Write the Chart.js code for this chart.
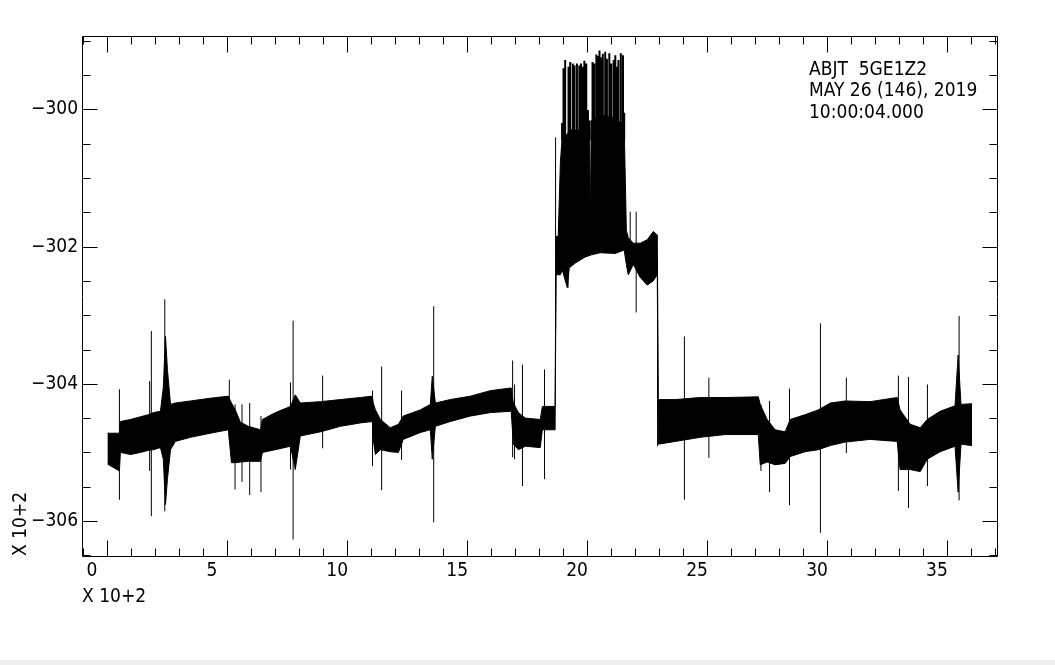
<!DOCTYPE html>
<html>
<head>
<meta charset="utf-8">
<script src="https://cdn.jsdelivr.net/npm/chart.js@4.4.1/dist/chart.umd.min.js"></script>
<style>
  html, body { margin: 0; padding: 0; background: #efefef; }
  #wrap { width: 1055px; height: 660px; background: #ffffff; }
  canvas { display: block; }
</style>
</head>
<body>
<div id="wrap"><canvas id="c" width="1055" height="660"></canvas></div>
<script>
// ---- Data (x in units of 10^2, y in units of 10^2) ----
const envX = [0.00, 0.50, 0.54, 0.96, 1.38, 1.71, 1.92, 2.21, 2.33, 2.42, 2.50, 2.63, 2.83, 3.46, 4.29, 5.04, 5.17, 5.33, 5.54, 5.88, 6.38, 6.46, 7.00, 7.63, 7.83, 8.04, 8.88, 9.71, 10.54, 11.04, 11.08, 11.17, 11.38, 11.79, 12.13, 12.33, 13.04, 13.46, 13.54, 13.67, 14.29, 15.13, 15.96, 16.83, 16.92, 17.13, 17.42, 18.04, 18.13, 18.66, 18.70, 18.79, 18.88, 18.96, 19.17, 19.25, 19.50, 19.92, 20.10, 20.13, 20.17, 20.54, 21.17, 21.54, 21.63, 21.71, 21.92, 22.21, 22.50, 22.75, 22.92, 22.96, 23.67, 24.71, 25.75, 27.13, 27.21, 27.50, 27.83, 28.25, 28.46, 29.08, 29.63, 30.13, 30.75, 31.79, 32.92, 33.04, 33.46, 33.88, 34.17, 34.71, 35.33, 35.46, 35.58, 36.04];
const envUpper = [-304.72, -304.72, -304.55, -304.52, -304.48, -304.45, -304.42, -304.40, -304.05, -303.31, -303.79, -304.30, -304.28, -304.25, -304.21, -304.18, -304.28, -304.38, -304.56, -304.62, -304.67, -304.52, -304.42, -304.33, -304.16, -304.28, -304.26, -304.23, -304.20, -304.18, -304.28, -304.38, -304.52, -304.64, -304.59, -304.47, -304.38, -304.30, -303.89, -304.28, -304.23, -304.18, -304.10, -304.06, -304.28, -304.42, -304.50, -304.52, -304.33, -304.33, -301.85, -301.85, -300.78, -300.37, -300.37, -300.30, -300.30, -300.30, -300.30, -301.76, -300.16, -300.08, -300.13, -300.23, -301.76, -301.87, -301.95, -301.95, -301.90, -301.78, -301.83, -304.23, -304.23, -304.20, -304.20, -304.19, -304.30, -304.52, -304.67, -304.70, -304.52, -304.45, -304.38, -304.28, -304.25, -304.26, -304.20, -304.38, -304.59, -304.64, -304.52, -304.40, -304.32, -303.58, -304.30, -304.29];
const envLower = [-305.17, -305.27, -305.00, -305.03, -305.00, -304.97, -304.96, -304.93, -305.10, -305.76, -305.39, -304.96, -304.84, -304.78, -304.72, -304.67, -305.15, -305.15, -305.14, -305.13, -305.13, -305.00, -304.96, -304.91, -305.25, -304.76, -304.70, -304.62, -304.57, -304.55, -304.81, -305.03, -304.96, -304.99, -305.00, -304.81, -304.71, -304.67, -305.10, -304.62, -304.55, -304.47, -304.42, -304.40, -304.88, -304.96, -304.91, -304.93, -304.67, -304.67, -302.41, -302.41, -302.41, -302.34, -302.60, -302.31, -302.24, -302.15, -302.13, -302.13, -302.12, -302.09, -302.10, -302.05, -302.26, -302.41, -302.26, -302.45, -302.56, -302.50, -302.41, -304.88, -304.84, -304.78, -304.74, -304.74, -305.18, -305.14, -305.18, -305.16, -305.06, -304.99, -304.96, -304.90, -304.85, -304.81, -304.84, -305.25, -305.25, -305.28, -305.10, -304.99, -304.91, -305.58, -304.88, -304.90];

// isolated spikes: position, lowest and highest values
const spikeX    = [0.50, 1.76, 1.83, 2.39, 5.08, 5.32, 5.61, 5.93, 6.40, 7.63, 7.74, 8.97, 11.05, 11.43, 12.26, 13.60, 16.89, 16.97, 17.30, 18.22, 18.68, 19.20, 21.79, 22.04, 22.93, 24.05, 25.07, 27.24, 27.60, 28.43, 29.72, 30.80, 32.97, 33.39, 34.18, 35.50];
const spikeLow  = [-305.69, -305.27, -305.93, -305.86, -304.81, -305.54, -305.43, -305.62, -305.58, -305.25, -306.27, -304.94, -305.20, -305.55, -305.11, -306.02, -305.07, -305.10, -305.49, -305.39, -303.21, -302.60, -302.34, -302.96, -304.91, -305.69, -305.08, -305.27, -305.58, -305.77, -306.17, -305.01, -305.56, -305.81, -305.49, -305.70];
const spikeHigh = [-304.08, -303.96, -303.23, -302.77, -303.94, -304.30, -304.30, -304.28, -304.47, -303.98, -303.08, -303.88, -304.10, -303.75, -304.10, -302.87, -303.66, -304.01, -303.72, -303.79, -300.41, -300.40, -301.49, -301.49, -302.20, -303.31, -303.91, -304.30, -304.25, -304.07, -303.12, -303.91, -303.88, -303.90, -304.01, -303.01];

// comb of spikes on the high plateau
const combX    = [18.95, 19.01, 19.08, 19.22, 19.29, 19.40, 19.47, 19.57, 19.67, 19.74, 19.80, 19.88, 19.96, 20.03, 20.10, 20.22, 20.29, 20.38, 20.43, 20.51, 20.58, 20.65, 20.75, 20.82, 20.92, 21.00, 21.10, 21.17, 21.24, 21.30, 21.40, 21.49, 21.54];
const combHigh = [-300.20, -299.40, -299.28, -299.38, -299.31, -299.33, -299.36, -299.33, -299.36, -299.33, -299.38, -299.29, -299.33, -300.01, -300.16, -299.31, -299.33, -299.20, -299.22, -299.14, -299.24, -299.19, -299.16, -299.26, -299.18, -299.33, -299.28, -299.21, -299.38, -299.28, -299.18, -299.21, -300.05];
const combBase = -300.45;

const xTickLabels = [0, 5, 10, 15, 20, 25, 30, 35];
const yTickLabels = [-306, -304, -302, -300];
const xRange = [-1.06, 37.08];
const yRange = [-306.51, -298.93];
const annotationLines = ['ABJT  5GE1Z2', 'MAY 26 (146), 2019', '10:00:04.000'];
const axisTitle = 'X 10+2';

// ---- Build datasets ----
const upperPts = envX.map((x, i) => ({ x, y: envUpper[i] }));
const lowerPts = envX.map((x, i) => ({ x, y: envLower[i] }));
const spikePts = [];
spikeX.forEach((x, i) => {
  spikePts.push({ x, y: spikeLow[i] }, { x, y: spikeHigh[i] }, { x, y: null });
});
const combPts = [];
combX.forEach((x, i) => {
  combPts.push({ x, y: combBase }, { x, y: combHigh[i] }, { x, y: null });
});

const FONT = "'DejaVu Sans Condensed', 'Liberation Sans Narrow', sans-serif";
const FS = 19;

const frameTicks = {
  id: 'frameTicks',
  afterDraw(chart) {
    const { ctx, chartArea: a, scales } = chart;
    const xs = scales.x, ys = scales.y;
    ctx.save();
    ctx.strokeStyle = '#000';
    ctx.lineWidth = 1;
    const L = Math.round(a.left) + 0.5, R = Math.round(a.right) + 0.5;
    const T = Math.round(a.top) + 0.5, B = Math.round(a.bottom) + 0.5;
    ctx.beginPath();
    ctx.rect(L, T, R - L, B - T);
    ctx.stroke();
    ctx.beginPath();
    for (let v = Math.ceil(xRange[0]); v <= xRange[1]; v++) {
      const p = Math.round(xs.getPixelForValue(v)) + 0.5;
      const len = (v % 5 === 0) ? 16 : 8;
      ctx.moveTo(p, B); ctx.lineTo(p, B - len);
      ctx.moveTo(p, T); ctx.lineTo(p, T + len);
    }
    for (let k = Math.ceil(yRange[0] * 2); k <= yRange[1] * 2; k++) {
      const v = k / 2;
      const p = Math.round(ys.getPixelForValue(v)) + 0.5;
      const len = (k % 4 === 0) ? 15 : 8;
      ctx.moveTo(L, p); ctx.lineTo(L + len, p);
      ctx.moveTo(R, p); ctx.lineTo(R - len, p);
    }
    ctx.stroke();
    ctx.fillStyle = '#000';
    ctx.font = FS + 'px ' + FONT;
    ctx.textBaseline = 'middle';
    ctx.textAlign = 'left';
    annotationLines.forEach((t, i) => ctx.fillText(t, 809, 70 + i * 21.5));
    ctx.restore();
  }
};

new Chart(document.getElementById('c'), {
  type: 'line',
  data: {
    datasets: [
      { data: upperPts, borderColor: '#000', backgroundColor: '#000', borderWidth: 1, pointRadius: 0, fill: '+1', tension: 0 },
      { data: lowerPts, borderColor: '#000', backgroundColor: '#000', borderWidth: 1, pointRadius: 0, fill: false, tension: 0 },
      { data: spikePts, borderColor: '#000', borderWidth: 1, pointRadius: 0, fill: false, spanGaps: false, tension: 0 },
      { data: combPts, borderColor: '#000', borderWidth: 2, pointRadius: 0, fill: false, spanGaps: false, tension: 0 }
    ]
  },
  options: {
    responsive: false,
    animation: false,
    events: [],
    layout: { padding: { left: 0, right: 58, top: 36, bottom: 52 } },
    plugins: { legend: { display: false }, tooltip: { enabled: false }, filler: { propagate: false } },
    scales: {
      x: {
        type: 'linear',
        min: xRange[0], max: xRange[1],
        afterBuildTicks: s => { s.ticks = xTickLabels.map(v => ({ value: v })); },
        afterFit: s => { s.height = 52; },
        grid: { display: false, drawTicks: false },
        border: { display: false },
        ticks: {
          color: '#000', font: { family: FONT, size: FS }, padding: 4,
          align: 'start', labelOffset: -21, maxRotation: 0, autoSkip: false,
          callback: v => String(v)
        },
        title: {
          display: true, text: axisTitle, align: 'start', color: '#000',
          font: { family: FONT, size: FS }, padding: { top: 0, bottom: 0 }
        }
      },
      y: {
        type: 'linear',
        min: yRange[0], max: yRange[1],
        afterBuildTicks: s => { s.ticks = yTickLabels.map(v => ({ value: v })); },
        afterFit: s => { s.width = 82; },
        grid: { display: false, drawTicks: false },
        border: { display: false },
        ticks: {
          color: '#000', font: { family: FONT, size: FS }, padding: 4, autoSkip: false,
          callback: v => '\u2212' + String(Math.abs(v))
        },
        title: {
          display: true, text: axisTitle, align: 'start', color: '#000',
          font: { family: FONT, size: FS }, padding: 10
        }
      }
    }
  },
  plugins: [frameTicks]
});
</script>
</body>
</html>
